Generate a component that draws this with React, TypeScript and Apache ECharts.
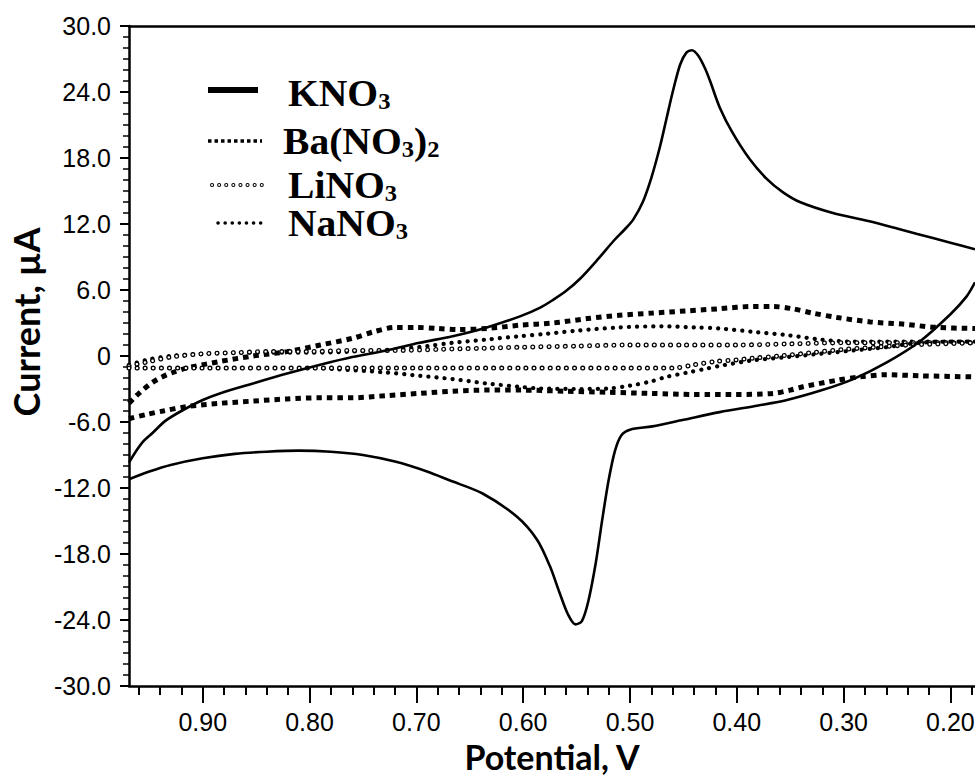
import { useEffect, useRef } from 'react';
import * as echarts from 'echarts';

// Potential (V) / current (µA) pairs
const kno3Upper: [number, number][] = [
  [0.969, -9.7], [0.962, -8.6], [0.955, -7.7], [0.947, -7.0], [0.935, -5.9], [0.92, -5.0], [0.9, -4.0],
  [0.884, -3.4], [0.853, -2.5], [0.821, -1.6], [0.79, -0.8], [0.76, -0.1], [0.728, 0.5], [0.697, 1.2],
  [0.666, 1.8], [0.634, 2.6], [0.603, 3.6], [0.584, 4.4], [0.572, 5.1], [0.56, 5.9], [0.547, 7.0],
  [0.53, 8.8], [0.515, 10.5], [0.505, 11.5], [0.497, 12.4], [0.488, 14.0], [0.48, 16.2], [0.472, 19.0],
  [0.466, 21.5], [0.46, 24.0], [0.453, 26.5], [0.447, 27.6], [0.442, 27.8], [0.436, 27.3], [0.43, 26.2],
  [0.425, 25.0], [0.416, 22.6], [0.404, 20.3], [0.388, 17.9], [0.372, 16.1], [0.357, 14.9], [0.341, 14.0],
  [0.31, 13.0], [0.278, 12.3], [0.25, 11.6], [0.231, 11.1], [0.2, 10.3], [0.177, 9.7],
];
const kno3Lower: [number, number][] = [
  [0.969, -11.2], [0.95, -10.5], [0.93, -9.9], [0.9, -9.3], [0.87, -8.9], [0.84, -8.7], [0.81, -8.6],
  [0.78, -8.7], [0.75, -9.0], [0.72, -9.6], [0.69, -10.5], [0.669, -11.3], [0.638, -12.5], [0.606, -14.6],
  [0.587, -16.7], [0.575, -19.1], [0.566, -21.5], [0.558, -23.5], [0.551, -24.4], [0.545, -24.1],
  [0.539, -22.3], [0.532, -18.8], [0.526, -14.9], [0.52, -11.3], [0.514, -8.6], [0.508, -7.2], [0.5, -6.7],
  [0.479, -6.4], [0.45, -5.8], [0.416, -5.1], [0.38, -4.5], [0.353, -4.0], [0.32, -3.1], [0.291, -2.1],
  [0.26, -0.6], [0.229, 1.3], [0.2, 3.8], [0.185, 5.4], [0.177, 6.7],
];
const baUpper: [number, number][] = [
  [0.969, -4.3], [0.962, -3.6], [0.955, -3.0], [0.947, -2.4], [0.938, -1.9], [0.928, -1.5], [0.915, -1.1],
  [0.884, -0.5], [0.853, 0.0], [0.821, 0.4], [0.79, 1.0], [0.76, 1.6], [0.74, 2.2], [0.72, 2.6], [0.7, 2.6],
  [0.68, 2.5], [0.66, 2.4], [0.634, 2.5], [0.603, 2.8], [0.572, 3.0], [0.54, 3.4], [0.51, 3.7], [0.479, 3.9],
  [0.447, 4.1], [0.416, 4.3], [0.385, 4.5], [0.366, 4.5], [0.348, 4.3], [0.329, 3.9], [0.306, 3.5],
  [0.275, 3.1], [0.245, 2.9], [0.213, 2.6], [0.177, 2.5],
];
const baLower: [number, number][] = [
  [0.969, -5.7], [0.952, -5.3], [0.937, -5.0], [0.915, -4.6], [0.884, -4.3], [0.853, -4.1], [0.821, -3.9],
  [0.79, -3.8], [0.76, -3.8], [0.728, -3.6], [0.697, -3.4], [0.666, -3.2], [0.634, -3.1], [0.603, -3.1],
  [0.56, -3.2], [0.52, -3.3], [0.48, -3.4], [0.44, -3.5], [0.4, -3.5], [0.366, -3.4], [0.35, -3.1],
  [0.338, -2.8], [0.306, -2.2], [0.285, -1.9], [0.26, -1.7], [0.229, -1.8], [0.177, -1.9],
];
const liUpper: [number, number][] = [
  [0.969, -0.9], [0.95, -0.5], [0.93, -0.1], [0.9, 0.2], [0.87, 0.3], [0.84, 0.4], [0.8, 0.4], [0.76, 0.5],
  [0.72, 0.5], [0.68, 0.6], [0.64, 0.7], [0.6, 0.8], [0.55, 0.9], [0.5, 1.0], [0.45, 1.0], [0.4, 1.0],
  [0.35, 1.1], [0.3, 1.2], [0.25, 1.2], [0.2, 1.2], [0.177, 1.2],
];
const liLower: [number, number][] = [
  [0.969, -1.1], [0.9, -1.1], [0.8, -1.1], [0.7, -1.1], [0.6, -1.1], [0.5, -1.1], [0.46, -1.1],
  [0.44, -0.8], [0.42, -0.5], [0.4, -0.35], [0.385, -0.2], [0.36, 0.0], [0.33, 0.3], [0.3, 0.6],
  [0.27, 0.8], [0.24, 1.0], [0.21, 1.1], [0.177, 1.2],
];
const naUpper: [number, number][] = [
  [0.969, -0.8], [0.95, -0.3], [0.93, 0.0], [0.9, 0.2], [0.87, 0.3], [0.84, 0.3], [0.8, 0.3], [0.76, 0.4],
  [0.72, 0.6], [0.69, 0.9], [0.666, 1.2], [0.634, 1.5], [0.603, 1.8], [0.58, 2.0], [0.55, 2.3], [0.51, 2.6],
  [0.47, 2.7], [0.44, 2.6], [0.416, 2.5], [0.385, 2.2], [0.353, 1.9], [0.322, 1.5], [0.291, 1.3],
  [0.26, 1.3], [0.229, 1.3], [0.177, 1.3],
];
const naLower: [number, number][] = [
  [0.969, -1.1], [0.9, -1.1], [0.8, -1.1], [0.775, -1.2], [0.728, -1.5], [0.697, -1.8], [0.666, -2.1],
  [0.634, -2.5], [0.603, -2.8], [0.584, -2.95], [0.55, -3.0], [0.52, -2.95], [0.5, -2.7], [0.48, -2.3],
  [0.466, -1.9], [0.446, -1.5], [0.431, -1.2], [0.416, -0.9], [0.385, -0.4], [0.353, -0.1], [0.322, 0.2],
  [0.291, 0.5], [0.26, 0.8], [0.23, 1.2], [0.2, 1.3], [0.177, 1.3],
];

const xMajorTicks = [0.2, 0.3, 0.4, 0.5, 0.6, 0.7, 0.8, 0.9];
const xMinorTicks = [
  0.18, 0.2, 0.22, 0.24, 0.26, 0.28, 0.3, 0.32, 0.34, 0.36, 0.38, 0.4, 0.42, 0.44, 0.46, 0.48, 0.5,
  0.52, 0.54, 0.56, 0.58, 0.6, 0.62, 0.64, 0.66, 0.68, 0.7, 0.72, 0.74, 0.76, 0.78, 0.8, 0.82, 0.84,
  0.86, 0.88, 0.9, 0.92, 0.94, 0.96,
];
const xMin = 0.177;
const xMax = 0.969;
const yMin = -30;
const yMax = 30;
const yStep = 6;

const legendNames = ['{m|KNO}{s|3}', '{m|Ba(NO}{s|3}{m|)}{s|2}', '{m|LiNO}{s|3}', '{m|NaNO}{s|3}'];

export default function App() {
  const ref = useRef<HTMLDivElement>(null);

  useEffect(() => {
    if (!ref.current) return;
    const chart = echarts.init(ref.current, undefined, { renderer: 'svg' });

    const solid = (name: string, data: [number, number][]) => ({
      type: 'line', name, data, smooth: 0.3, symbol: 'none', showSymbol: false, clip: true,
      lineStyle: { color: '#000', width: 2.6 }, z: 5,
    });
    const squares = (name: string, data: [number, number][]) => ({
      type: 'line', name, data, smooth: 0.3, symbol: 'none', showSymbol: false, clip: true,
      lineStyle: { color: '#000', width: 5, type: [5.5, 5], cap: 'butt' }, z: 3,
    });
    const dots = (name: string, data: [number, number][], color: string, width: number, z: number) => ({
      type: 'line', name, data, smooth: 0.3, symbol: 'none', showSymbol: false, clip: true,
      lineStyle: { color, width, type: [0.1, 8], cap: 'round' }, z,
    });

    const rich = {
      m: { fontFamily: 'Liberation Serif', fontWeight: 'bold', fontSize: 37, lineHeight: 40, fill: '#000', color: '#000' },
      s: { fontFamily: 'Liberation Serif', fontWeight: 'bold', fontSize: 23, lineHeight: 24, verticalAlign: 'bottom', fill: '#000', color: '#000' },
    };
    const legendY = [93, 141, 185, 223];
    const legendX = [288, 283, 288, 288];

    const xBase = {
      type: 'value', inverse: true, min: xMin, max: xMax,
      splitLine: { show: false },
    };

    chart.setOption({
      animation: false,
      backgroundColor: '#fff',
      grid: { left: 129, top: 26, right: 0, bottom: 94, containLabel: false, outerBoundsMode: 'none' },
      xAxis: [
        {
          ...xBase, position: 'bottom',
          axisLine: { show: true, onZero: false, lineStyle: { color: '#000', width: 2.5 } },
          axisTick: { show: true, length: 17, customValues: xMajorTicks, lineStyle: { color: '#000', width: 2 } },
          axisLabel: {
            show: true, customValues: xMajorTicks, margin: 23, color: '#000',
            fontFamily: 'Liberation Sans', fontSize: 25, lineHeight: 26, hideOverlap: false,
            formatter: (v: number) => v.toFixed(2),
          },
        },
        {
          ...xBase, position: 'bottom',
          axisLine: { show: false, onZero: false },
          axisTick: { show: true, length: 9, customValues: xMinorTicks, lineStyle: { color: '#000', width: 2 } },
          axisLabel: { show: false },
        },
        {
          ...xBase, position: 'top',
          axisLine: { show: true, onZero: false, lineStyle: { color: '#000', width: 2.5 } },
          axisTick: { show: false },
          axisLabel: { show: false },
        },
      ],
      yAxis: {
        type: 'value', min: yMin, max: yMax, interval: yStep,
        axisLine: { show: true, onZero: false, lineStyle: { color: '#000', width: 2.5 } },
        axisTick: { show: true, length: 9, lineStyle: { color: '#000', width: 2 } },
        minorTick: { show: true, splitNumber: 6, length: 6, lineStyle: { color: '#000', width: 1.5 } },
        axisLabel: {
          margin: 18, color: '#000', fontFamily: 'Liberation Sans', fontSize: 25,
          formatter: (v: number) => (v === 0 ? '0' : v.toFixed(1)),
        },
        splitLine: { show: false },
        minorSplitLine: { show: false },
      },
      series: [
        squares('Ba(NO3)2', baUpper),
        squares('Ba(NO3)2', baLower),
        dots('NaNO3', naUpper, '#000', 4.2, 3),
        dots('NaNO3', naLower, '#000', 4.2, 3),
        dots('LiNO3', liUpper, '#000', 5, 4),
        dots('LiNO3 ', liUpper, '#fff', 2.4, 4),
        dots('LiNO3', liLower, '#000', 5, 4),
        dots('LiNO3 ', liLower, '#fff', 2.4, 4),
        solid('KNO3', kno3Upper),
        solid('KNO3', kno3Lower),
      ],
      graphic: [
        {
          type: 'text', x: 26, y: 322, rotation: Math.PI / 2,
          style: { text: 'Current, µA', fill: '#000', font: 'bold 36px Lato', align: 'center', verticalAlign: 'middle' },
        },
        {
          type: 'text', x: 552, y: 756,
          style: { text: 'Potential, V', fill: '#000', font: 'bold 34px Lato', lineHeight: 34, align: 'center', verticalAlign: 'middle' },
        },
        { type: 'line', shape: { x1: 208, y1: 90, x2: 258, y2: 90 }, style: { stroke: '#000', lineWidth: 6 } },
        { type: 'line', shape: { x1: 208, y1: 141, x2: 262, y2: 141 }, style: { stroke: '#000', lineWidth: 3.5, lineDash: [3.5, 3] } },
        { type: 'line', shape: { x1: 212, y1: 185, x2: 263, y2: 185 }, style: { stroke: '#000', lineWidth: 4, lineDash: [0.1, 7], lineCap: 'round' } },
        { type: 'line', shape: { x1: 212, y1: 185, x2: 263, y2: 185 }, style: { stroke: '#fff', lineWidth: 2, lineDash: [0.1, 7], lineCap: 'round' } },
        { type: 'line', shape: { x1: 218, y1: 223, x2: 263, y2: 223 }, style: { stroke: '#000', lineWidth: 3.5, lineDash: [0.1, 7], lineCap: 'round' } },
        ...legendNames.map((t, i) => ({
          type: 'text', x: legendX[i], y: legendY[i], scaleX: 1.07,
          style: { text: t, rich, align: 'left', verticalAlign: 'middle', fill: '#000' },
        })),
      ],
    });

    return () => chart.dispose();
  }, []);

  return (
    <div
      ref={ref}
      style={{ position: 'fixed', left: 0, top: 0, width: 975, height: 780, background: '#fff' }}
    />
  );
}
